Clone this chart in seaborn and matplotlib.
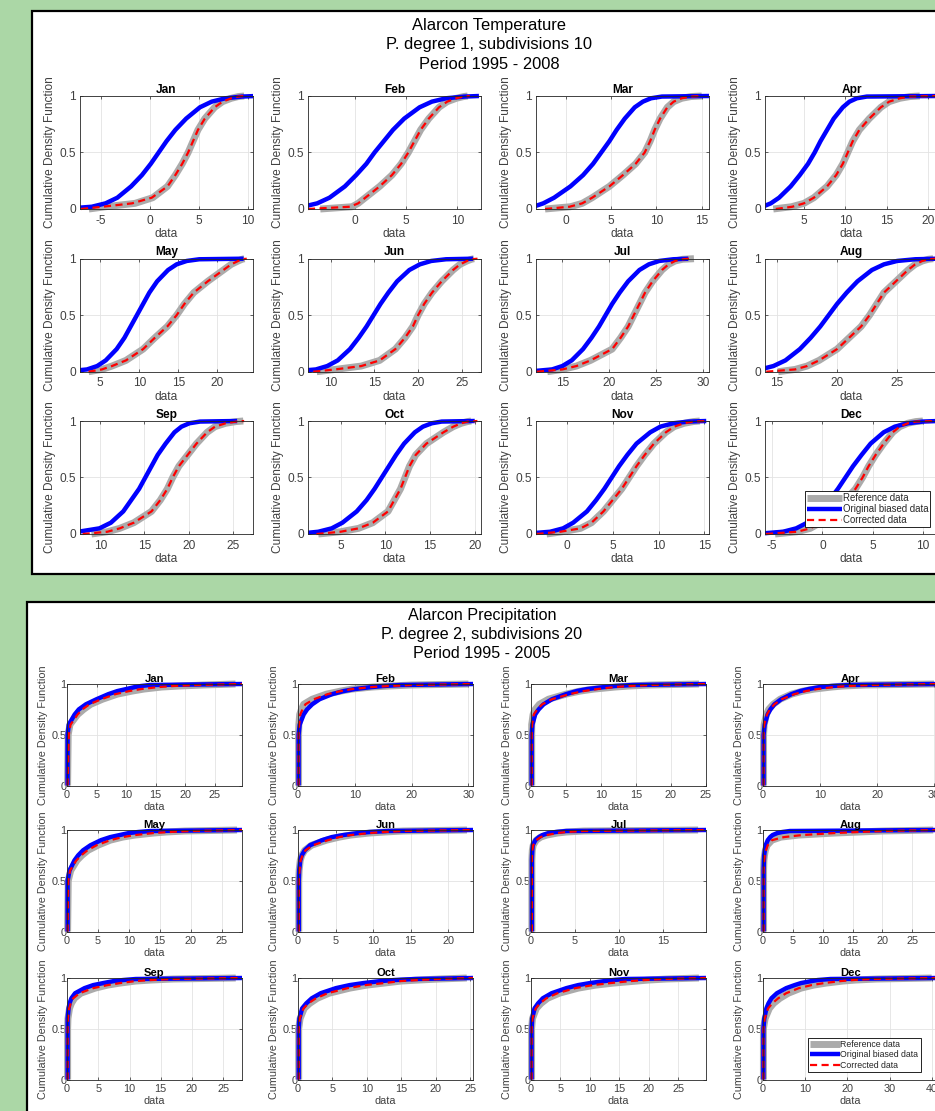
import numpy as np
import pandas as pd
import matplotlib
matplotlib.use("Agg")
import matplotlib.pyplot as plt
import seaborn as sns
from matplotlib.patches import Rectangle

# ---------------- data ----------------
MONTHS = ["Jan", "Feb", "Mar", "Apr", "May", "Jun",
          "Jul", "Aug", "Sep", "Oct", "Nov", "Dec"]

# Temperature: x value (quantile) at each cumulative level
TEMP_P = [0.0, 0.02, 0.05, 0.1, 0.2, 0.3, 0.4, 0.5, 0.6, 0.7, 0.8, 0.9, 0.95, 0.98, 0.995, 1.0]

TEMP_REF = [
    [-6.2, -4.5, -1.5, 0.3, 1.8, 2.6, 3.3, 3.9, 4.4, 4.9, 5.6, 6.6, 7.4, 8.3, 9.0, 9.6],
    [-3.4, -0.3, 0.3, 1.0, 2.4, 3.6, 4.5, 5.2, 5.8, 6.4, 7.2, 8.2, 9.0, 9.9, 10.6, 11.0],
    [-2.3, 0.5, 1.8, 2.9, 4.8, 6.3, 7.7, 8.7, 9.3, 9.8, 10.4, 11.2, 11.9, 12.8, 13.8, 15.0],
    [1.3, 3.5, 5.0, 6.2, 7.8, 8.9, 9.7, 10.3, 10.9, 11.7, 12.9, 14.3, 15.3, 16.6, 17.8, 19.0],
    [3.5, 5.2, 6.5, 8.3, 10.5, 12.0, 13.6, 14.8, 15.8, 17.0, 18.8, 20.8, 21.8, 22.7, 23.2, 23.5],
    [8.4, 10.5, 13.5, 15.6, 17.4, 18.5, 19.4, 20.0, 20.7, 21.6, 22.7, 24.0, 24.8, 25.6, 26.1, 26.4],
    [13.4, 15.0, 16.5, 18.0, 20.3, 21.2, 22.0, 22.6, 23.2, 23.8, 24.6, 25.6, 26.3, 27.0, 27.8, 29.0],
    [15.1, 16.5, 17.5, 18.5, 20.0, 21.0, 22.0, 22.7, 23.3, 23.9, 24.9, 25.9, 26.5, 27.1, 27.6, 28.0],
    [9.0, 10.8, 12.2, 13.8, 15.8, 16.8, 17.6, 18.2, 18.9, 19.9, 20.9, 22.1, 23.0, 24.2, 25.4, 26.2],
    [2.5, 5.0, 7.0, 8.6, 10.3, 11.0, 11.7, 12.2, 12.7, 13.4, 14.6, 16.5, 17.6, 18.5, 19.2, 19.6],
    [-2.2, -0.5, 1.5, 2.7, 4.0, 5.0, 6.0, 6.8, 7.6, 8.5, 9.5, 10.8, 11.7, 12.8, 13.8, 14.5],
    [-4.7, -2.5, -1.2, -0.2, 1.2, 2.3, 3.3, 4.0, 4.6, 5.3, 6.1, 7.0, 7.7, 8.5, 9.3, 10.0],
]

TEMP_ORIG = [
    [-9.0, -5.9, -4.5, -3.3, -1.9, -0.8, 0.1, 0.9, 1.7, 2.6, 3.7, 5.1, 6.3, 7.7, 9.4, 10.8],
    [-8.3, -5.1, -3.7, -2.5, -1.0, 0.1, 1.1, 1.9, 2.8, 3.7, 4.8, 6.3, 7.5, 8.9, 10.7, 12.1],
    [-5.5, -3.6, -2.5, -1.3, 0.5, 1.9, 3.0, 3.9, 4.8, 5.6, 6.5, 7.6, 8.5, 9.4, 10.6, 15.8],
    [-1.5, 0.0, 1.0, 2.0, 3.4, 4.5, 5.5, 6.3, 7.0, 7.8, 8.6, 9.7, 10.5, 11.4, 12.6, 21.2],
    [0.4, 3.3, 4.6, 5.7, 7.1, 8.1, 8.9, 9.7, 10.5, 11.3, 12.3, 13.7, 14.8, 16.1, 17.7, 23.4],
    [5.3, 8.3, 9.6, 10.8, 12.2, 13.2, 14.1, 14.9, 15.7, 16.6, 17.6, 19.0, 20.2, 21.5, 23.2, 26.3],
    [11.2, 13.9, 15.0, 16.0, 17.2, 18.1, 18.9, 19.6, 20.3, 21.1, 22.0, 23.2, 24.2, 25.3, 26.8, 28.4],
    [10.9, 13.6, 14.7, 15.7, 16.9, 17.8, 18.6, 19.3, 20.0, 20.8, 21.7, 22.9, 23.9, 25.0, 26.5, 28.4],
    [5.0, 7.5, 9.9, 11.2, 12.6, 13.5, 14.4, 15.1, 15.8, 16.5, 17.4, 18.4, 19.2, 20.1, 21.3, 25.5],
    [0.0, 2.5, 4.0, 5.2, 6.8, 7.9, 8.8, 9.6, 10.4, 11.2, 12.1, 13.3, 14.2, 15.2, 16.3, 20.0],
    [-4.9, -1.8, -0.4, 0.7, 2.2, 3.2, 4.1, 4.9, 5.7, 6.6, 7.6, 9.1, 10.2, 11.6, 13.3, 15.2],
    [-6.7, -3.9, -2.6, -1.5, -0.2, 0.7, 1.55, 2.3, 3.05, 3.9, 4.8, 6.1, 7.2, 8.5, 10.0, 11.5],
]

TEMP_CORR = [
    [-7.0, -4.8, -1.8, 0.2, 1.8, 2.6, 3.3, 3.9, 4.4, 4.9, 5.6, 6.6, 7.4, 8.3, 9.0, 9.6],
    [-4.6, -0.5, 0.3, 1.0, 2.4, 3.6, 4.5, 5.2, 5.8, 6.4, 7.2, 8.2, 9.0, 9.9, 10.6, 11.2],
    [-2.3, 0.4, 1.8, 2.9, 4.8, 6.3, 7.7, 8.7, 9.3, 9.8, 10.4, 11.2, 11.9, 12.8, 13.8, 15.0],
    [1.6, 3.6, 5.0, 6.2, 7.8, 8.9, 9.7, 10.3, 10.9, 11.7, 12.9, 14.3, 15.3, 16.6, 17.8, 21.0],
    [3.5, 5.2, 6.5, 8.3, 10.5, 12.0, 13.6, 14.8, 15.8, 17.0, 18.8, 20.8, 21.8, 22.7, 23.2, 23.8],
    [8.0, 10.5, 13.5, 15.6, 17.4, 18.5, 19.4, 20.0, 20.7, 21.6, 22.7, 24.0, 24.8, 25.6, 26.1, 26.8],
    [12.3, 15.0, 16.5, 18.0, 20.3, 21.2, 22.0, 22.6, 23.2, 23.8, 24.6, 25.6, 26.3, 27.0, 27.8, 28.5],
    [14.1, 16.5, 17.5, 18.5, 20.0, 21.0, 22.0, 22.7, 23.3, 23.9, 24.9, 25.9, 26.5, 27.1, 27.6, 28.3],
    [8.0, 10.8, 12.2, 13.8, 15.8, 16.8, 17.6, 18.2, 18.9, 19.9, 20.9, 22.1, 23.0, 24.2, 25.4, 26.3],
    [2.3, 5.0, 7.0, 8.6, 10.3, 11.0, 11.7, 12.2, 12.7, 13.4, 14.6, 16.5, 17.6, 18.5, 19.2, 20.3],
    [-3.3, -0.7, 1.5, 2.7, 4.0, 5.0, 6.0, 6.8, 7.6, 8.5, 9.5, 10.8, 11.7, 12.8, 13.8, 15.3],
    [-5.6, -2.5, -1.2, -0.2, 1.2, 2.3, 3.3, 4.0, 4.6, 5.3, 6.1, 7.0, 7.7, 8.5, 9.3, 11.2],
]

TEMP_XLIM = [(-7.1, 10.5), (-4.6, 12.3), (-3.3, 15.8), (0.3, 21.2),
             (2.4, 24.6), (7.4, 27.2), (12.2, 30.6), (14.0, 28.4),
             (7.7, 27.3), (1.35, 20.7), (-3.35, 15.5), (-5.7, 11.5)]

TEMP_XTICKS = [[-5, 0, 5, 10], [0, 5, 10], [0, 5, 10, 15], [5, 10, 15, 20],
               [5, 10, 15, 20], [10, 15, 20, 25], [15, 20, 25, 30], [15, 20, 25],
               [10, 15, 20, 25], [5, 10, 15, 20], [0, 5, 10, 15], [-5, 0, 5, 10]]

# Precipitation: x value (quantile) at each cumulative level
PREC_P = [0.0, 0.5, 0.6, 0.7, 0.75, 0.8, 0.85, 0.9, 0.93, 0.95, 0.97, 0.98, 0.99, 1.0]

PREC_REF = [
    [0.1, 0.2, 0.5, 1.8, 2.8, 4.0, 6.0, 8.5, 11.0, 13.0, 16.0, 19.0, 23.0, 28.5],
    [0.1, 0.1, 0.15, 0.3, 0.6, 1.0, 2.5, 5.0, 7.5, 9.5, 13.0, 16.0, 20.0, 30.0],
    [0.1, 0.1, 0.1, 0.3, 0.6, 1.2, 2.5, 5.0, 7.0, 9.0, 12.0, 14.0, 17.0, 24.0],
    [0.1, 0.1, 0.2, 0.6, 1.0, 1.8, 3.0, 5.0, 7.0, 9.0, 12.0, 14.0, 18.0, 30.0],
    [0.1, 0.2, 0.6, 1.6, 2.4, 3.4, 5.0, 7.0, 9.0, 11.0, 14.0, 16.0, 19.0, 27.5],
    [0.1, 0.1, 0.15, 0.3, 0.5, 0.9, 1.8, 3.8, 5.5, 7.0, 9.5, 11.5, 14.0, 22.5],
    [0.1, 0.1, 0.1, 0.1, 0.12, 0.15, 0.25, 0.6, 1.1, 1.8, 3.0, 4.0, 6.0, 19.0],
    [0.1, 0.1, 0.1, 0.15, 0.25, 0.4, 0.7, 1.5, 3.0, 6.0, 12.0, 16.0, 20.0, 28.5],
    [0.1, 0.1, 0.15, 0.4, 0.7, 1.2, 2.2, 4.5, 6.5, 8.5, 11.0, 13.5, 17.0, 27.0],
    [0.1, 0.1, 0.3, 0.9, 1.7, 2.8, 4.5, 7.5, 10.0, 12.5, 15.0, 17.5, 20.5, 24.5],
    [0.1, 0.1, 0.25, 0.9, 1.7, 2.8, 4.8, 8.0, 11.0, 14.0, 18.0, 20.0, 23.0, 28.5],
    [0.1, 0.1, 0.5, 1.5, 2.5, 4.0, 6.0, 9.0, 12.0, 15.0, 19.0, 22.0, 27.0, 40.0],
]

PREC_ORIG = [
    [0.1, 0.1, 0.3, 1.3, 2.0, 3.2, 5.0, 7.0, 8.5, 10.0, 11.5, 12.5, 14.0, 29.6],
    [0.1, 0.1, 0.3, 1.0, 1.6, 2.5, 3.8, 6.0, 8.0, 10.0, 13.0, 15.0, 18.0, 30.8],
    [0.1, 0.1, 0.2, 0.6, 1.1, 1.8, 3.0, 5.0, 6.5, 8.0, 10.5, 12.0, 14.5, 25.0],
    [0.1, 0.1, 0.3, 0.8, 1.3, 2.0, 3.2, 5.0, 6.5, 8.0, 10.0, 12.0, 15.0, 30.7],
    [0.1, 0.1, 0.4, 1.2, 1.8, 2.6, 3.8, 5.5, 7.0, 8.5, 10.0, 11.5, 13.5, 28.3],
    [0.1, 0.1, 0.15, 0.3, 0.5, 0.9, 1.6, 3.2, 4.5, 6.0, 8.0, 9.5, 12.0, 23.3],
    [0.1, 0.1, 0.1, 0.1, 0.12, 0.15, 0.2, 0.5, 0.9, 1.3, 2.0, 2.8, 4.0, 19.9],
    [0.1, 0.1, 0.1, 0.15, 0.2, 0.3, 0.45, 0.8, 1.2, 1.6, 2.4, 3.2, 4.5, 29.3],
    [0.1, 0.1, 0.1, 0.25, 0.4, 0.7, 1.3, 2.8, 4.2, 5.8, 7.5, 9.0, 11.0, 28.0],
    [0.1, 0.1, 0.2, 0.6, 1.2, 2.0, 3.3, 5.5, 7.5, 9.5, 12.0, 14.0, 17.0, 25.4],
    [0.1, 0.1, 0.2, 0.6, 1.2, 2.0, 3.5, 6.0, 8.0, 10.0, 12.5, 14.0, 16.0, 29.7],
    [0.1, 0.1, 0.3, 0.8, 1.3, 2.0, 3.3, 5.5, 7.5, 9.0, 11.5, 13.0, 16.0, 41.5],
]

PREC_CORR = [
    [0.1, 0.3, 0.6, 1.8, 2.6, 3.8, 5.8, 8.2, 10.5, 12.5, 15.5, 18.0, 22.0, 29.6],
    [0.1, 0.1, 0.2, 0.4, 0.8, 1.3, 2.8, 5.2, 7.5, 9.5, 13.0, 16.0, 20.0, 30.8],
    [0.1, 0.1, 0.15, 0.4, 0.9, 1.6, 3.0, 5.5, 7.5, 9.5, 12.0, 14.0, 17.0, 25.0],
    [0.1, 0.1, 0.2, 0.7, 1.2, 2.0, 3.3, 5.5, 7.5, 9.5, 12.5, 15.0, 19.0, 30.7],
    [0.1, 0.2, 0.5, 1.5, 2.3, 3.3, 4.8, 7.0, 9.0, 11.0, 14.0, 16.5, 20.0, 28.3],
    [0.1, 0.1, 0.2, 0.35, 0.6, 1.0, 2.0, 4.0, 5.5, 7.0, 9.5, 11.5, 14.0, 23.3],
    [0.1, 0.1, 0.1, 0.1, 0.12, 0.15, 0.25, 0.6, 1.1, 1.8, 3.0, 4.0, 6.0, 19.9],
    [0.1, 0.1, 0.1, 0.2, 0.3, 0.5, 0.8, 1.5, 3.5, 6.5, 12.0, 16.0, 20.0, 29.3],
    [0.1, 0.1, 0.15, 0.35, 0.6, 1.0, 2.0, 4.2, 6.5, 8.5, 11.0, 13.5, 17.0, 28.0],
    [0.1, 0.1, 0.25, 0.8, 1.5, 2.6, 4.3, 7.2, 9.8, 12.5, 15.0, 17.5, 20.5, 25.4],
    [0.1, 0.1, 0.25, 0.8, 1.5, 2.6, 4.5, 7.5, 10.5, 13.5, 17.0, 19.5, 22.5, 29.7],
    [0.1, 0.1, 0.4, 1.2, 2.2, 3.6, 5.5, 8.5, 11.5, 14.5, 18.5, 21.5, 26.0, 41.5],
]

PREC_XLIM = [(0, 29.6), (0, 30.8), (0, 25.0), (0, 30.7), (0, 28.3), (0, 23.3),
             (0, 19.9), (0, 29.3), (0, 28.0), (0, 25.4), (0, 29.7), (0, 41.5)]

PREC_XTICKS = [[0, 5, 10, 15, 20, 25], [0, 10, 20, 30], [0, 5, 10, 15, 20, 25],
               [0, 10, 20, 30], [0, 5, 10, 15, 20, 25], [0, 5, 10, 15, 20],
               [0, 5, 10, 15], [0, 5, 10, 15, 20, 25], [0, 5, 10, 15, 20, 25],
               [0, 5, 10, 15, 20, 25], [0, 5, 10, 15, 20, 25], [0, 10, 20, 30, 40]]

YTICKS = [0, 0.5, 1]
YTICK_LABELS = ["0", "0.5", "1"]
LEGEND_LABELS = ["Reference data", "Original biased data", "Corrected data"]

TEMP_TITLE = ["Alarcon Temperature", "P. degree 1, subdivisions 10", "Period 1995 - 2008"]
PREC_TITLE = ["Alarcon Precipitation", "P. degree 2, subdivisions 20", "Period 1995 - 2005"]

# ---------------- style ----------------
sns.set_style("white")
plt.rcParams['font.family'] = ['Liberation Sans', 'DejaVu Sans']
plt.rcParams['axes.unicode_minus'] = False

GREEN = "#abd7a6"
GRAY = "#ababab"
BLUE = "#0000ff"
RED = "#ff0000"
AX_COL = "#262626"
TXT_COL = "#404040"

W, H = 935, 1111
fig = plt.figure(figsize=(W / 100, H / 100), dpi=100, facecolor=GREEN)


def fx(px):
    return px / W


def fy(py):
    return 1 - py / H


# white panels with black frame
fig.patches.append(Rectangle((fx(32), fy(574)), fx(990) - fx(32), fy(11) - fy(574),
                             transform=fig.transFigure, facecolor="white",
                             edgecolor="black", lw=1.6, zorder=-1))
fig.patches.append(Rectangle((fx(27), fy(1140)), fx(990) - fx(27), fy(602) - fy(1140),
                             transform=fig.transFigure, facecolor="white",
                             edgecolor="black", lw=1.6, zorder=-1))

for i, t in enumerate(TEMP_TITLE):
    fig.text(fx(489), fy(25.5 + 19.5 * i), t, ha="center", va="center",
             fontsize=11.9, color="black")
for i, t in enumerate(PREC_TITLE):
    fig.text(fx(482), fy(615.5 + 19 * i), t, ha="center", va="center",
             fontsize=11.6, color="black")


def draw(ax, P, ref, orig, corr, xlim, xticks, title, fs, tfs, ylpad, xpad, tpad, clipx):
    sns.lineplot(x=ref, y=P, sort=False, estimator=None, color=GRAY,
                 linewidth=5, ax=ax, legend=False)
    sns.lineplot(x=orig, y=P, sort=False, estimator=None, color=BLUE,
                 linewidth=3.2, ax=ax, legend=False)
    sns.lineplot(x=corr, y=P, sort=False, estimator=None, color=RED,
                 linewidth=1.6, ax=ax, legend=False)
    lines = ax.lines[-3:]
    lines[2].set_linestyle((0, (3.2, 2.0)))
    for ln in lines:
        ln.set_solid_capstyle("butt")
        clip = Rectangle((clipx, -0.06), 1 - clipx, 1.12, transform=ax.transAxes)
        ln.set_clip_path(clip)
    ax.set_xlim(*xlim)
    ax.set_ylim(0, 1)
    ax.set_xticks(xticks)
    ax.set_xticklabels([str(v) for v in xticks])
    ax.set_yticks(YTICKS)
    ax.set_yticklabels(YTICK_LABELS)
    ax.grid(True, color="#e3e3e3", linewidth=0.6)
    ax.set_axisbelow(True)
    for s in ax.spines.values():
        s.set_color(AX_COL)
        s.set_linewidth(0.6)
        s.set_visible(True)
    ax.tick_params(direction="in", length=2.5, width=0.5, color=AX_COL,
                   labelsize=fs, labelcolor=TXT_COL, top=True, right=True,
                   bottom=True, left=True)
    ax.tick_params(axis="y", pad=ylpad)
    ax.tick_params(axis="x", pad=xpad)
    ax.set_xlabel("data", fontsize=fs, color=TXT_COL, labelpad=1)
    ax.set_ylabel("Cumulative Density Function", fontsize=fs, color=TXT_COL, labelpad=2.5)
    ax.set_title(title, fontsize=tfs, fontweight="bold", color="black", pad=tpad)
    ax.set_facecolor("white")
    return lines


# top panel grid
T_COLS = [80, 308, 536, 765]
T_ROWS = [96, 258.7, 421]
T_W, T_H = 173, 113
# bottom panel grid
B_COLS = [67, 298, 531, 763]
B_ROWS = [684, 830, 978]
B_W, B_H = 175, 101.5

for k in range(12):
    r, c = divmod(k, 4)
    left, top = T_COLS[c], T_ROWS[r]
    ax = fig.add_axes([fx(left), fy(top + T_H), T_W / W, T_H / H])
    lines = draw(ax, TEMP_P, TEMP_REF[k], TEMP_ORIG[k], TEMP_CORR[k],
                 TEMP_XLIM[k], TEMP_XTICKS[k], MONTHS[k], 8.6, 8.6, 3, 4, 2.5, 0.0)
    if k == 11:
        leg = ax.legend(lines, LEGEND_LABELS, loc="lower right",
                        bbox_to_anchor=(0.955, 0.06), fontsize=6.9,
                        frameon=True, fancybox=False, edgecolor="black",
                        framealpha=1, handlelength=3.6, borderpad=0.2,
                        labelspacing=0.1, handletextpad=0.1, borderaxespad=0)
        leg.get_frame().set_linewidth(0.6)

for k in range(12):
    r, c = divmod(k, 4)
    left, top = B_COLS[c], B_ROWS[r]
    ax = fig.add_axes([fx(left), fy(top + B_H), B_W / W, B_H / H])
    lines = draw(ax, PREC_P, PREC_REF[k], PREC_ORIG[k], PREC_CORR[k],
                 PREC_XLIM[k], PREC_XTICKS[k], MONTHS[k], 7.8, 8.1, 0.3, 3.5, 1.5, -0.03)
    if k == 11:
        leg = ax.legend(lines, LEGEND_LABELS, loc="lower left",
                        bbox_to_anchor=(0.255, 0.07), fontsize=6.3,
                        frameon=True, fancybox=False, edgecolor="black",
                        framealpha=1, handlelength=3.4, borderpad=0.25,
                        labelspacing=0.2, handletextpad=0.1, borderaxespad=0)
        leg.get_frame().set_linewidth(0.6)

fig.savefig("out.png", dpi=100, facecolor=GREEN)
